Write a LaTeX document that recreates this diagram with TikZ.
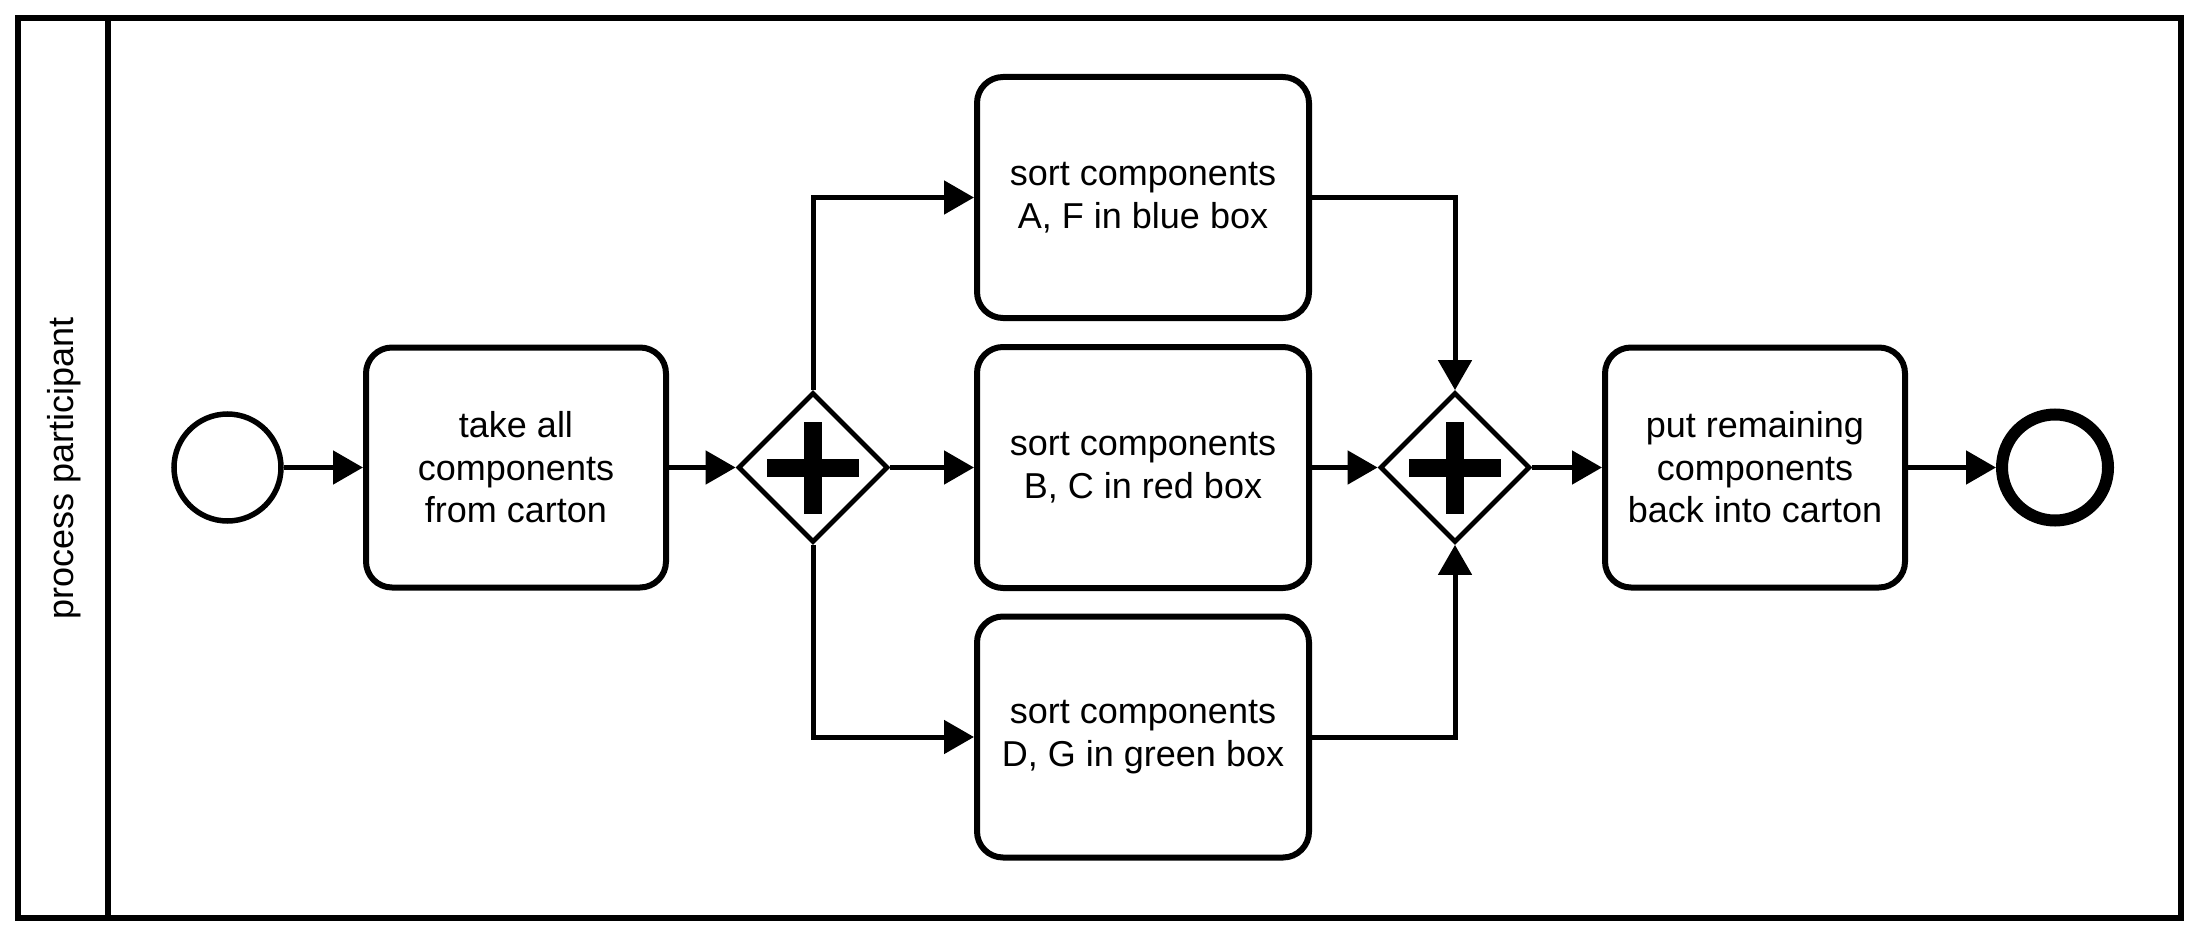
\documentclass[tikz,border=0pt]{standalone}
\usepackage{fontspec}
\setmainfont{Liberation Sans}
\usetikzlibrary{arrows.meta,shapes.geometric}

\tikzset{
  every node/.style={font=\fontsize{18}{21.25}\selectfont},
  task/.style={draw, line width=3pt, rounded corners=13pt, align=center,
    minimum width=150pt, minimum height=120pt, inner sep=0pt, fill=white},
  wide task/.style={task, minimum width=166pt, minimum height=120.5pt},
  gateway/.style={draw, diamond, line width=2.4pt, minimum size=75pt,
    inner sep=0pt, aspect=1, fill=white},
  startevent/.style={draw, circle, line width=2.75pt, minimum size=53.5pt, inner sep=0pt},
  endevent/.style={draw, circle, line width=6pt, minimum size=53pt, inner sep=0pt},
  flow/.style={line width=2.5pt, -{Triangle[length=15pt,width=16.5pt]}},
  pool/.style={line width=3pt},
}

% draws the plus marker of a parallel gateway
\newcommand{\plusmark}[1]{%
  \fill ([shift={(-46,-9)}]#1.center) rectangle ([shift={(46,9)}]#1.center);
  \fill ([shift={(-9,-46)}]#1.center) rectangle ([shift={(9,46)}]#1.center);
}

\begin{document}
\begin{tikzpicture}[x=0.5pt, y=-0.5pt]
  \useasboundingbox (0,0) rectangle (2199,936);

  % pool with its lane header
  \draw[pool] (18,18) rectangle (2181,918);
  \draw[pool] (108,18) -- (108,918);
  \node[rotate=90] (lane) at (64,468) {process participant};

  % events, tasks and gateways
  \node[startevent] (start) at (227.5,467.5) {};
  \node[task] (take) at (516,467.5) {take all\\components\\from carton};
  \node[gateway] (split) at (813,467.5) {};
  \node[wide task] (blue) at (1143,197.5) {sort components\\A, F in blue box};
  \node[wide task] (red) at (1143,467.5) {sort components\\B, C in red box};
  \node[wide task] (green) at (1143,737) {sort components\\D, G in green box};
  \node[gateway] (join) at (1455,467.5) {};
  \node[task] (put) at (1755,467.5) {put remaining\\components\\back into carton};
  \node[endevent] (end) at (2055,467.5) {};

  \plusmark{split}
  \plusmark{join}

  % sequence flows
  \draw[flow] (start) -- (take);
  \draw[flow] (take.east) -- (split.west);
  \draw[flow] (split.north) |- (blue.west);
  \draw[flow] (split.east) -- (red.west);
  \draw[flow] (split.south) |- (green.west);
  \draw[flow] (blue.east) -| (join.north);
  \draw[flow] (red.east) -- (join.west);
  \draw[flow] (green.east) -| (join.south);
  \draw[flow] (join.east) -- (put.west);
  \draw[flow] (put.east) -- (end.west);
\end{tikzpicture}
\end{document}
